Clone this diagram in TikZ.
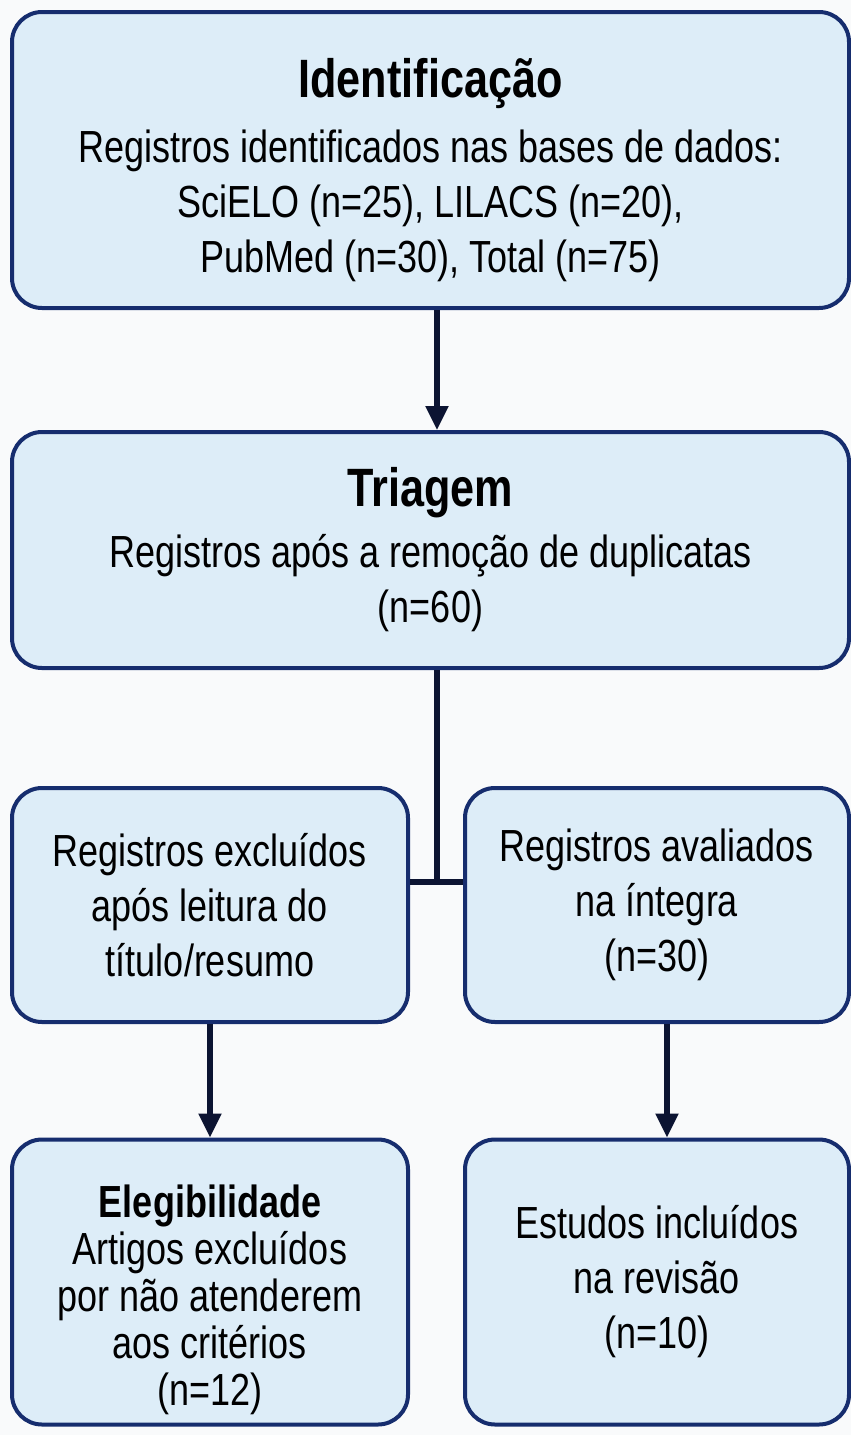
\documentclass[tikz,border=0pt]{standalone}
\usepackage{fontspec}
\setmainfont{Liberation Sans}[FakeStretch=0.8]
\usetikzlibrary{arrows.meta}
\definecolor{boxfill}{RGB}{221,237,248}
\definecolor{boxline}{RGB}{22,45,110}
\definecolor{linkline}{RGB}{12,20,50}
\definecolor{pagebg}{RGB}{249,250,251}
\newcommand{\stagetitle}{\fontsize{27}{32}\selectfont\bfseries}

\begin{document}
\begin{tikzpicture}[x=0.5pt, y=-0.5pt,
  stage/.style = {draw=boxline, fill=boxfill, line width=2pt, rounded corners=15pt,
                  align=center, inner sep=0pt, font=\fontsize{22.5}{27.5}\selectfont},
  wide/.style = {stage, minimum width=418.5pt},
  leftcol/.style = {stage, minimum width=198pt},
  rightcol/.style = {stage, minimum width=192pt},
  link/.style = {draw=linkline, line width=2.6pt},
  arrow/.style = {link, -{Triangle[width=11pt, length=12pt]}}
]
\fill[pagebg] (0,0) rectangle (851,1435);
\useasboundingbox (0,0) rectangle (851,1435);

\node[wide, minimum height=148pt] (ident) at (430.5,160)
  {{\stagetitle\rule{0pt}{30pt}Identificação}\\[5pt]
   Registros identificados nas bases de dados:\\
   SciELO (n=25), LILACS (n=20),\\
   PubMed (n=30), Total (n=75)};
\node[wide, minimum height=118pt] (triag) at (430.5,550)
  {{\stagetitle Triagem}\\[3pt]
   Registros após a remoção de duplicatas\\
   (n=60)};

% middle row
\node[leftcol, minimum height=117pt] (excl) at (210,905)
  {Registros excluídos\\ após leitura do\\ título/resumo};
\node[rightcol, minimum height=117pt] (aval) at (657,905)
  {Registros avaliados\\ na íntegra\\ (n=30)};

% bottom row
\node[leftcol, minimum height=142.5pt, font=\fontsize{22.5}{23.5}\selectfont] (eleg) at (210,1282)
  {{\bfseries\rule{0pt}{34pt}Elegibilidade}\\
   Artigos excluídos\\ por não atenderem\\ aos critérios\\ (n=12)};
\node[rightcol, minimum height=142.5pt] (incl) at (657,1282)
  {Estudos incluídos\\ na revisão\\ (n=10)};

\coordinate (jn) at (437,882);
\draw[arrow] (ident.south -| jn) -- (triag.north -| jn);
\draw[link] (triag.south -| jn) -- (jn);
\draw[link] (excl.east |- jn) -- (aval.west |- jn);
\draw[arrow] (excl.south) -- (eleg.north);
\draw[arrow] ([xshift=5pt]aval.south) -- ([xshift=5pt]incl.north);
\end{tikzpicture}
\end{document}
